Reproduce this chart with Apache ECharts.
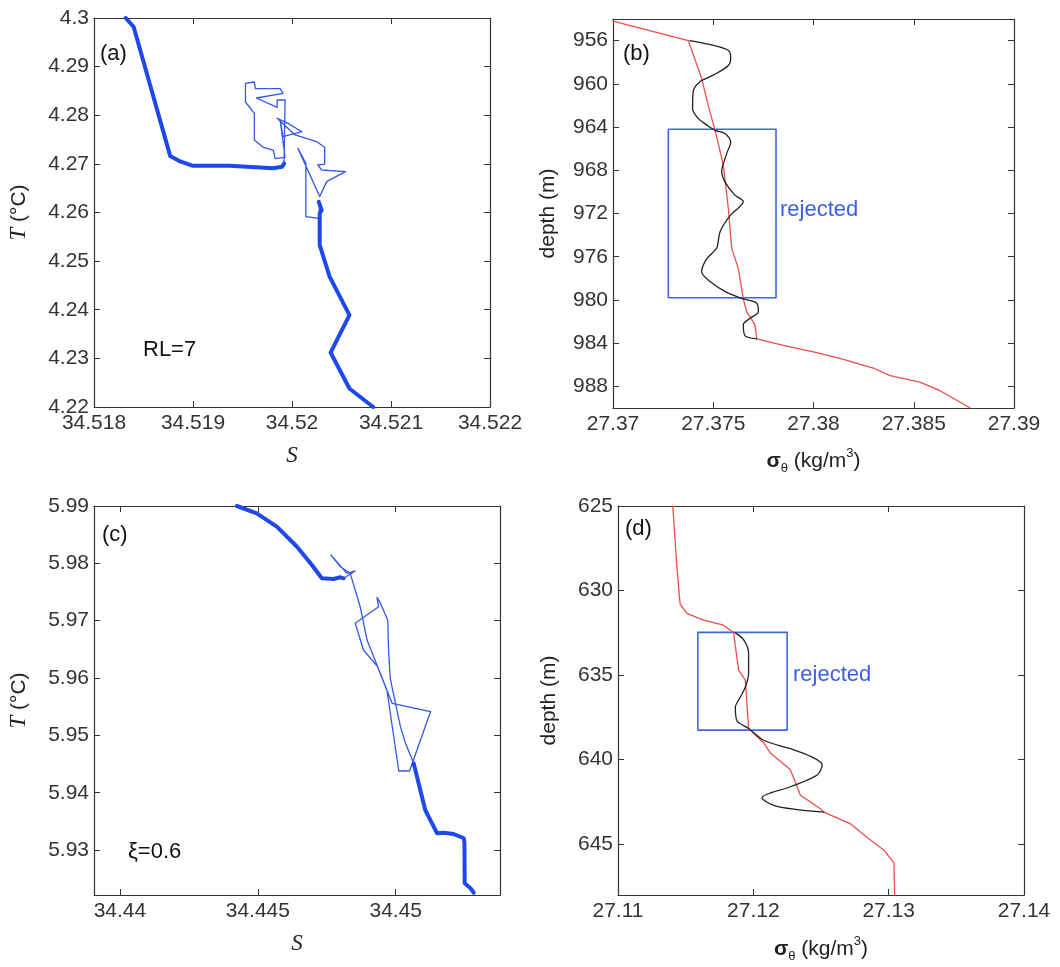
<!DOCTYPE html>
<html><head><meta charset="utf-8">
<script src="https://cdn.jsdelivr.net/npm/echarts@6/dist/echarts.min.js"></script>
<style>html,body{margin:0;padding:0;background:#fff}#c{width:1060px;height:967px}</style>
</head><body><div id="c"></div>
<script>
// ---------- Panel (a): T-S diagram ----------
const aXTicks = [34.518, 34.519, 34.52, 34.521, 34.522];
const aYTicks = [4.22, 4.23, 4.24, 4.25, 4.26, 4.27, 4.28, 4.29, 4.3];
const aThick1S = [34.51832,34.51840,34.51877,34.51887,34.51900,34.51937,34.51938,34.51981,34.51990,34.51992];
const aThick1T = [4.3000,4.2982,4.2716,4.2705,4.2696,4.2696,4.2692,4.2691,4.2694,4.2701];
const aThinS = [34.51992,34.51993,34.51993,34.51985,34.51985,34.51964,34.51991,34.51988,34.51963,34.51962,34.51953,34.51953,34.51962,34.51962,34.51971,34.51981,34.51983,34.51993,34.51988,34.51991,34.52010,34.51996,34.51985,34.52003,34.52025,34.52033,34.52033,34.52026,34.52030,34.52054,34.52035,34.52028,34.52006,34.52014,34.52014,34.52027,34.52028,34.52027];
const aThinT = [4.2701,4.27025,4.28314,4.28314,4.28163,4.28355,4.28451,4.28547,4.28547,4.28684,4.28657,4.28273,4.28040,4.27491,4.27340,4.27285,4.27107,4.27135,4.27902,4.27559,4.27662,4.27834,4.27937,4.27594,4.27457,4.27340,4.26997,4.26977,4.26874,4.26840,4.26635,4.26327,4.27319,4.27011,4.25914,4.25880,4.26222,4.2622];
const aThick2S = [34.52027,34.52030,34.52028,34.52028,34.52028,34.52038,34.52058,34.52039,34.52058,34.52082];
const aThick2T = [4.2622,4.2605,4.2598,4.2564,4.2533,4.2468,4.2389,4.2312,4.2238,4.2200];

// ---------- Panel (b): density profile ----------
const bXTicks = [27.37, 27.375, 27.38, 27.385, 27.39];
const bYTicks = [956, 960, 964, 968, 972, 976, 980, 984, 988];
const bRedSig = [27.3700,27.37376,27.37442,27.37475,27.37509,27.37550,27.37575,27.37592,27.37625,27.37650,27.37667,27.37708,27.37717,27.37849,27.37999,27.38132,27.38298,27.38382,27.38531,27.38631,27.38781];
const bRedDep = [954.2,956.0,959.5,962.0,964.3,967.5,971.5,975.2,977.1,979.9,981.1,982.3,983.6,984.2,984.8,985.4,986.3,987.0,987.6,988.4,990.0];
const bBlkSig = [27.37384,27.37492,27.37575,27.37587,27.37575,27.37500,27.37434,27.37400,27.37397,27.37425,27.37467,27.37509,27.37559,27.37587,27.37570,27.37559,27.37542,27.37559,27.37608,27.37650,27.37584,27.37534,27.37517,27.37467,27.37442,27.37484,27.37567,27.37650,27.37717,27.37725,27.37683,27.37650,27.37658,27.37717];
const bBlkDep = [956.0,956.4,956.9,957.6,958.3,959.2,959.8,960.7,962.3,963.2,963.8,964.3,964.6,965.4,966.3,966.9,968.1,969.1,970.3,970.9,972.2,973.7,975.2,976.2,977.4,978.3,979.3,979.9,980.3,981.1,981.7,982.3,983.3,983.6];
const bRectSig = [27.37276,27.37813,27.37813,27.37276,27.37276];
const bRectDep = [964.2,964.2,979.8,979.8,964.2];

// ---------- Panel (c): T-S diagram ----------
const cXTicks = [34.44, 34.445, 34.45];
const cYTicks = [5.93, 5.94, 5.95, 5.96, 5.97, 5.98, 5.99];
const cThick1S = [34.44424,34.44496,34.44569,34.44642,34.44696,34.44732,34.44775,34.44799,34.44811];
const cThick1T = [5.9900,5.98872,5.98639,5.98290,5.97971,5.97739,5.97727,5.97757,5.97739];
const cThinS = [34.44811,34.44853,34.44823,34.44775,34.44765,34.44799,34.44835,34.44871,34.44896,34.44932,34.44968,34.45011,34.45050,34.45126,34.44987,34.44934,34.44883,34.44853,34.44938,34.44932,34.44942,34.44971,34.44974,34.44980,34.45017,34.45035,34.45065];
const cThinT = [5.97739,5.97867,5.97826,5.98088,5.98146,5.97942,5.97826,5.97244,5.96663,5.96228,5.95792,5.94379,5.94379,5.95413,5.95560,5.96198,5.96489,5.96955,5.97244,5.97408,5.97331,5.97012,5.96489,5.95996,5.95152,5.94867,5.94513];
const cThick2S = [34.45065,34.45083,34.45107,34.45119,34.45150,34.45174,34.45210,34.45247,34.45249,34.45250,34.45271,34.45283];
const cThick2T = [5.94513,5.94165,5.93699,5.93582,5.93293,5.93304,5.93281,5.93206,5.93119,5.92421,5.92334,5.92257];

// ---------- Panel (d): density profile ----------
const dXTicks = [27.11, 27.12, 27.13, 27.14];
const dYTicks = [625, 630, 635, 640, 645];
const dRedSig = [27.11405,27.11435,27.11459,27.11509,27.11632,27.11780,27.11854,27.11891,27.11941,27.11965,27.12076,27.12126,27.12274,27.12348,27.12496,27.12521,27.12719,27.12842,27.12965,27.13039,27.13044];
const dRedDep = [625.0,628.6,630.8,631.35,631.75,632.05,632.5,634.7,635.3,638.15,639.0,639.6,640.6,642.1,642.9,643.1,643.8,644.6,645.35,646.1,648.0];
const dBlkSig = [27.11867,27.11928,27.11965,27.11965,27.11941,27.11904,27.11867,27.11879,27.11965,27.12076,27.12274,27.12422,27.12509,27.12472,27.12274,27.12064,27.12150,27.12323,27.12521];
const dBlkDep = [632.5,632.9,633.7,634.9,635.7,636.3,636.9,637.7,638.15,638.85,639.35,639.8,640.3,640.9,641.6,642.25,642.7,642.95,643.1];
const dRectSig = [27.1159,27.1225,27.1225,27.1159,27.1159];
const dRectDep = [632.47,632.47,638.25,638.25,632.47];

// ---------- build ----------
const zip = (a, b) => a.map((v, i) => [v, b[i]]);
const FONT = 'Liberation Sans';
const AX = '#333';
const TICKFS = 21;
const fmt = d => v => String(+(+v).toFixed(d));

const grids = [
  {left: 94, top: 18, width: 396, height: 389},
  {left: 613, top: 19, width: 401, height: 389},
  {left: 94, top: 506, width: 406, height: 389},
  {left: 618, top: 506, width: 406, height: 389}
];

const rich = {
  i: {fontFamily: 'Liberation Serif', fontStyle: 'italic', fontSize: 23, color: '#222'},
  s: {fontFamily: FONT, fontSize: 21, fontWeight: 'bold', color: '#222', lineHeight: 28},
  sub: {fontFamily: FONT, fontSize: 13, color: '#222', verticalAlign: 'bottom', lineHeight: 14},
  sup: {fontFamily: FONT, fontSize: 13, color: '#222', verticalAlign: 'top', lineHeight: 14},
  n: {fontFamily: FONT, fontSize: 21, color: '#222', lineHeight: 28}
};

const panels = [
  {x: {min: 34.518, max: 34.522, ticks: aXTicks, d: 4, name: '{i|S}', gap: 37},
   y: {min: 4.22, max: 4.30, ticks: aYTicks, d: 3, inverse: false, name: '{i|T}{n| (°C)}', gap: 61}},
  {x: {min: 27.37, max: 27.39, ticks: bXTicks, d: 4, name: '{s|σ}{sub|θ}{n| (kg/m}{sup|3}{n|)}', gap: 39},
   y: {min: 954, max: 990, ticks: bYTicks, d: 0, inverse: true, name: '{n|depth (m)}', gap: 51}},
  {x: {min: 34.43906, max: 34.45378, ticks: cXTicks, d: 4, name: '{i|S}', gap: 37},
   y: {min: 5.92217, max: 5.99, ticks: cYTicks, d: 3, inverse: false, name: '{i|T}{n| (°C)}', gap: 61}},
  {x: {min: 27.11, max: 27.14, ticks: dXTicks, d: 3, name: '{s|σ}{sub|θ}{n| (kg/m}{sup|3}{n|)}', gap: 40},
   y: {min: 625, max: 648, ticks: dYTicks, d: 0, inverse: true, name: '{n|depth (m)}', gap: 55}}
];

const xAxis = [], yAxis = [];
panels.forEach((p, g) => {
  const base = {
    type: 'value', gridIndex: g, splitLine: {show: false},
    axisLine: {show: true, onZero: false, lineStyle: {color: AX, width: 1.2}}
  };
  xAxis.push(Object.assign({}, base, {
    position: 'bottom', min: p.x.min, max: p.x.max,
    axisTick: {show: true, inside: true, length: 6, customValues: p.x.ticks, lineStyle: {color: AX}},
    axisLabel: {customValues: p.x.ticks, formatter: fmt(p.x.d), color: '#333', fontSize: TICKFS, fontFamily: FONT, margin: 6, hideOverlap: false},
    name: p.x.name, nameLocation: 'middle', nameGap: p.x.gap,
    nameTextStyle: {fontFamily: FONT, fontSize: 21, color: '#222', rich: rich}
  }));
  xAxis.push(Object.assign({}, base, {
    position: 'top', min: p.x.min, max: p.x.max,
    axisTick: {show: true, inside: true, length: 6, customValues: p.x.ticks, lineStyle: {color: AX}},
    axisLabel: {show: false}
  }));
  yAxis.push(Object.assign({}, base, {
    position: 'left', min: p.y.min, max: p.y.max, inverse: p.y.inverse,
    axisTick: {show: true, inside: true, length: 6, customValues: p.y.ticks, lineStyle: {color: AX}},
    axisLabel: {customValues: p.y.ticks, formatter: fmt(p.y.d), color: '#333', fontSize: TICKFS, fontFamily: FONT, margin: 5, hideOverlap: false},
    name: p.y.name, nameLocation: 'middle', nameGap: p.y.gap, nameRotate: 90,
    nameTextStyle: {fontFamily: FONT, fontSize: 21, color: '#222', rich: rich}
  }));
  yAxis.push(Object.assign({}, base, {
    position: 'right', min: p.y.min, max: p.y.max, inverse: p.y.inverse,
    axisTick: {show: true, inside: true, length: 6, customValues: p.y.ticks, lineStyle: {color: AX}},
    axisLabel: {show: false}
  }));
});

function ln(g, data, color, width, extra) {
  return Object.assign({
    type: 'line', xAxisIndex: 2 * g, yAxisIndex: 2 * g, data: data,
    showSymbol: false, symbol: 'none', silent: true, clip: true,
    lineStyle: {color: color, width: width, join: 'round', cap: 'round'}
  }, extra || {});
}

const BLUE_THICK = '#1e48ec', BLUE_THIN = '#3358e8', RED = '#ef4d4d', BLK = '#222', RECT = '#3f66e8';

const series = [
  ln(0, zip(aThick1S, aThick1T), BLUE_THICK, 4),
  ln(0, zip(aThinS, aThinT), BLUE_THIN, 1.3),
  ln(0, zip(aThick2S, aThick2T), BLUE_THICK, 4),
  ln(1, zip(bRectSig, bRectDep), RECT, 1.6),
  ln(1, zip(bRedSig, bRedDep), RED, 1.3),
  ln(1, zip(bBlkSig, bBlkDep), BLK, 1.3, {smooth: 0.3}),
  ln(2, zip(cThick1S, cThick1T), BLUE_THICK, 4),
  ln(2, zip(cThinS, cThinT), BLUE_THIN, 1.3),
  ln(2, zip(cThick2S, cThick2T), BLUE_THICK, 4),
  ln(3, zip(dRectSig, dRectDep), RECT, 1.6),
  ln(3, zip(dRedSig, dRedDep), RED, 1.3),
  ln(3, zip(dBlkSig, dBlkDep), BLK, 1.3, {smooth: 0.3})
];

function txt(s, x, y, color) {
  return {type: 'text', x: x, y: y, silent: true,
    style: {text: s, fill: color || '#111', fontSize: 22, fontFamily: FONT, verticalAlign: 'middle', align: 'left'}};
}

const chart = echarts.init(document.getElementById('c'), null, {renderer: 'canvas'});
chart.setOption({
  animation: false,
  backgroundColor: '#fff',
  grid: grids,
  xAxis: xAxis,
  yAxis: yAxis,
  series: series,
  graphic: [
    txt('(a)', 100, 54), txt('(b)', 623, 54), txt('(c)', 102, 535), txt('(d)', 625, 529),
    txt('RL=7', 143, 350), txt('ξ=0.6', 128, 852),
    txt('rejected', 780, 210, '#3d5fe6'), txt('rejected', 793, 675, '#3d5fe6')
  ]
});
</script>
</body></html>
